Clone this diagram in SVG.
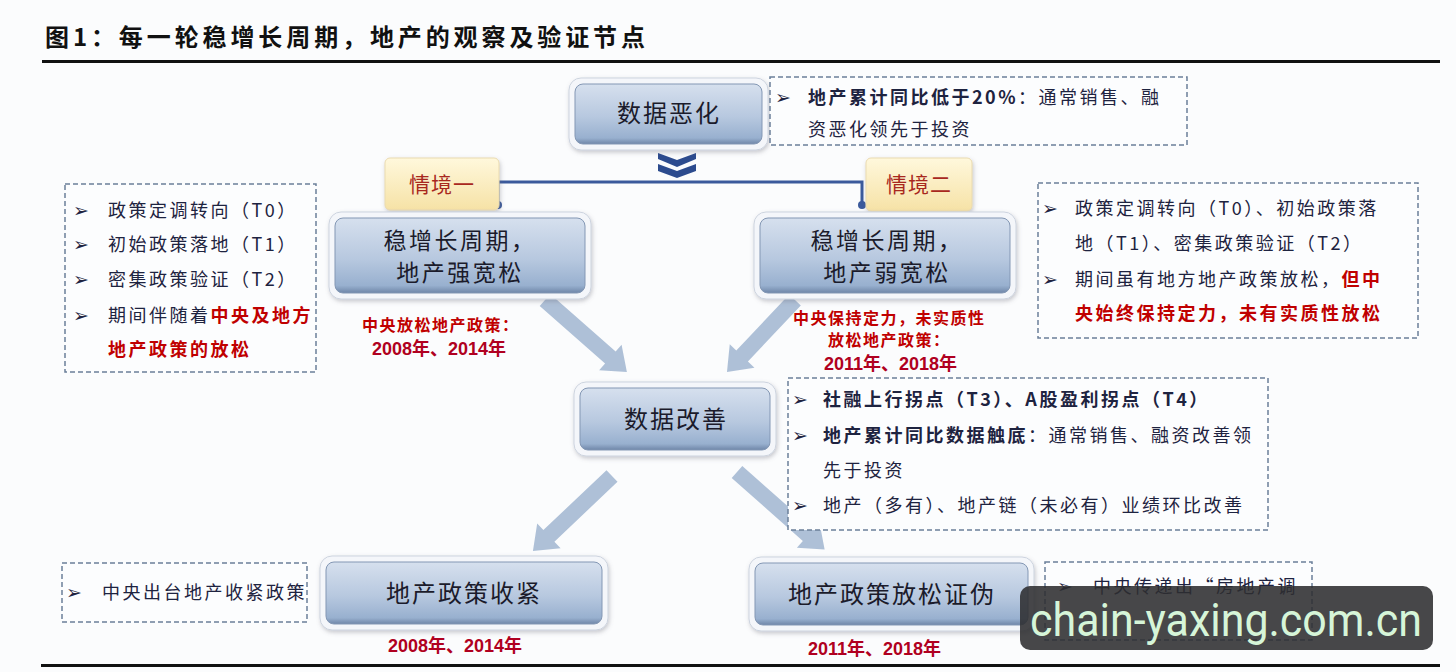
<svg xmlns="http://www.w3.org/2000/svg" width="1456" height="672" viewBox="0 0 1456 672">
<defs>
<linearGradient id="g" x1="0" y1="0" x2="0" y2="1">
<stop offset="0" stop-color="#d6e0ee"/>
<stop offset="0.55" stop-color="#b7c8df"/>
<stop offset="0.9" stop-color="#98b0cf"/>
<stop offset="1" stop-color="#6f86a8"/>
</linearGradient>
<linearGradient id="gy" x1="0" y1="0" x2="0" y2="1">
<stop offset="0" stop-color="#fff8dc"/>
<stop offset="1" stop-color="#f6e2a6"/>
</linearGradient>
<filter id="sh" x="-10%" y="-10%" width="120%" height="130%">
<feDropShadow dx="1" dy="2" stdDeviation="2" flood-color="#667" flood-opacity="0.35"/>
</filter>
<style>
.rim{fill:#f4f6fa;stroke:#cdd4df;stroke-width:1;filter:url(#sh)}
.node{fill:url(#g);stroke:#8397b4;stroke-width:1}
.nt{font-family:"Noto Sans CJK SC",sans-serif;font-size:24px;fill:#1b1b2b;text-anchor:middle;letter-spacing:2px}
.nt2{font-family:"Noto Sans CJK SC",sans-serif;font-size:23px;fill:#1b1b2b;text-anchor:middle;letter-spacing:2.5px}
.dash{fill:#fcfdfe;stroke:#6b7f99;stroke-width:1.5;stroke-dasharray:5 3}
.bt{font-family:"Noto Sans CJK SC",sans-serif;font-size:18px;fill:#1e2340;letter-spacing:2.5px}
.bul{font-family:"DejaVu Sans",sans-serif;font-size:19px;fill:#1e2340}
.red{fill:#c00000}
.b{font-weight:bold}
.rt{font-family:"Noto Sans CJK SC",sans-serif;font-size:16px;fill:#c00000;font-weight:bold;letter-spacing:1.5px}
.yr{font-family:"Liberation Sans","Noto Sans CJK SC",sans-serif;font-size:18px;fill:#b00020;font-weight:bold}
.yl{fill:url(#gy);stroke:#eadbb0;stroke-width:1;filter:url(#sh)}
.ylt{font-family:"Noto Sans CJK SC",sans-serif;font-size:21px;fill:#a8281e;text-anchor:middle;letter-spacing:1px}
.arr{fill:#a7bbd4;opacity:0.92}
</style>
</defs>
<rect width="1456" height="672" fill="#fbfcfd"/>

<g id="title">
<text x="45" y="46" font-family="Noto Sans CJK SC, sans-serif" font-size="24" font-weight="bold" fill="#111" textLength="600">图1：每一轮稳增长周期，地产的观察及验证节点</text>
<rect x="42" y="60" width="1398" height="3" fill="#111"/>
<rect x="41" y="664" width="1399" height="3" fill="#111"/>
</g>

<g id="connectors">
<path d="M498,205 V182 H862 V205" fill="none" stroke="#3b5a9c" stroke-width="3"/>
<circle cx="498" cy="205" r="4" fill="#3b5a9c"/>
<circle cx="862" cy="205" r="4" fill="#3b5a9c"/>
<polygon points="658,153 677,160 696,153 696,159 677,167 658,159" fill="#2c4b8e"/>
<polygon points="658,164 677,171 696,164 696,171 677,178 658,171" fill="#2c4b8e"/>
<path class="arr" transform="translate(545,300) rotate(41.3)" d="M0,-8 L87,-8 L87,-17 L109,0 L87,17 L87,8 L0,8 Z"/>
<path class="arr" transform="translate(795,300) rotate(133.4)" d="M0,-8 L77,-8 L77,-17 L99,0 L77,17 L77,8 L0,8 Z"/>
<path class="arr" transform="translate(612,476) rotate(136.5)" d="M0,-8 L87,-8 L87,-17 L109,0 L87,17 L87,8 L0,8 Z"/>
<path class="arr" transform="translate(737,472) rotate(41.5)" d="M0,-8 L95,-8 L95,-17 L117,0 L95,17 L95,8 L0,8 Z"/>
</g>

<g id="n-worse">
<rect class="rim" x="569" y="78" width="199" height="72" rx="12"/>
<rect class="node" x="575" y="84" width="187" height="60" rx="8"/>
<text class="nt" x="669" y="122">数据恶化</text>
</g>

<g id="box-worse">
<rect class="dash" x="770" y="77" width="417" height="68"/>
<text class="bul" x="775" y="104">➢</text>
<text class="bt" x="808" y="104"><tspan class="b">地产累计同比低于20%</tspan>：通常销售、融</text>
<text class="bt" x="808" y="136">资恶化领先于投资</text>
</g>

<g id="label1">
<rect class="yl" x="385" y="158" width="114" height="52" rx="5"/>
<text class="ylt" x="442" y="192">情境一</text>
</g>
<g id="label2">
<rect class="yl" x="866" y="158" width="106" height="53" rx="5"/>
<text class="ylt" x="919" y="192">情境二</text>
</g>

<g id="n-strong">
<rect class="rim" x="329" y="212" width="262" height="87" rx="12"/>
<rect class="node" x="335" y="218" width="250" height="75" rx="8"/>
<text class="nt2" x="460" y="249">稳增长周期，</text>
<text class="nt2" x="460" y="281">地产强宽松</text>
</g>

<g id="n-weak">
<rect class="rim" x="754" y="212" width="262" height="87" rx="12"/>
<rect class="node" x="760" y="218" width="250" height="75" rx="8"/>
<text class="nt2" x="887" y="249">稳增长周期，</text>
<text class="nt2" x="887" y="281">地产弱宽松</text>
</g>

<g id="box-left">
<rect class="dash" x="65" y="184" width="251" height="188"/>
<text class="bul" x="73" y="217">➢</text>
<text class="bul" x="73" y="251">➢</text>
<text class="bul" x="73" y="286">➢</text>
<text class="bul" x="73" y="322">➢</text>
<text class="bt" x="108" y="217">政策定调转向（T0）</text>
<text class="bt" x="108" y="251">初始政策落地（T1）</text>
<text class="bt" x="108" y="286">密集政策验证（T2）</text>
<text class="bt" x="108" y="322">期间伴随着<tspan class="red b">中央及地方</tspan></text>
<text class="bt red b" x="108" y="356">地产政策的放松</text>
</g>

<g id="box-right">
<rect class="dash" x="1038" y="183" width="380" height="155"/>
<text class="bul" x="1042" y="215">➢</text>
<text class="bul" x="1042" y="286">➢</text>
<text class="bt" x="1075" y="215">政策定调转向（T0）、初始政策落</text>
<text class="bt" x="1075" y="250">地（T1）、密集政策验证（T2）</text>
<text class="bt" x="1075" y="286">期间虽有地方地产政策放松，<tspan class="red b">但中</tspan></text>
<text class="bt red b" x="1075" y="320">央始终保持定力，未有实质性放松</text>
</g>

<g id="red-left">
<text class="rt" x="362" y="331">中央放松地产政策：</text>
<text class="yr" x="372" y="355">2008年、2014年</text>
</g>
<g id="red-right">
<text class="rt" x="793" y="324">中央保持定力，未实质性</text>
<text class="rt" x="828" y="346">放松地产政策：</text>
<text class="yr" x="824" y="370">2011年、2018年</text>
</g>

<g id="n-better">
<rect class="rim" x="574" y="382" width="202" height="74" rx="12"/>
<rect class="node" x="580" y="388" width="190" height="62" rx="8"/>
<text class="nt" x="676" y="428">数据改善</text>
</g>

<g id="box-better">
<rect class="dash" x="788" y="378" width="480" height="152"/>
<text class="bul" x="792" y="406">➢</text>
<text class="bul" x="792" y="442">➢</text>
<text class="bul" x="792" y="512">➢</text>
<text class="bt b" x="823" y="406">社融上行拐点（T3）、A股盈利拐点（T4）</text>
<text class="bt" x="823" y="442"><tspan class="b">地产累计同比数据触底</tspan>：通常销售、融资改善领</text>
<text class="bt" x="823" y="477">先于投资</text>
<text class="bt" x="823" y="512">地产（多有）、地产链（未必有）业绩环比改善</text>
</g>

<g id="n-tight">
<rect class="rim" x="320" y="556" width="288" height="74" rx="12"/>
<rect class="node" x="326" y="562" width="276" height="62" rx="8"/>
<text class="nt" x="464" y="602">地产政策收紧</text>
</g>

<g id="box-tight">
<rect class="dash" x="62" y="563" width="245" height="59"/>
<text class="bul" x="66" y="599">➢</text>
<text class="bt" x="102" y="599">中央出台地产收紧政策</text>
</g>
<text class="yr" x="388" y="652">2008年、2014年</text>

<g id="n-false">
<rect class="rim" x="749" y="557" width="285" height="74" rx="12"/>
<rect class="node" x="755" y="563" width="273" height="62" rx="8"/>
<text class="nt" x="892" y="603">地产政策放松证伪</text>
</g>
<text class="yr" x="808" y="655">2011年、2018年</text>

<g id="box-false">
<rect class="dash" x="1045" y="562" width="267" height="78"/>
<text class="bul" x="1057" y="593">➢</text>
<text class="bt" x="1093" y="593">中央传递出“房地产调</text>
</g>

<g id="watermark">
<rect x="1020" y="586" width="413" height="64" rx="10" fill="#2e2e30" opacity="0.88"/>
<text x="1030" y="636" font-family="Roboto, sans-serif" font-size="46" fill="#d6f5d8" textLength="392" lengthAdjust="spacingAndGlyphs">chain-yaxing.com.cn</text>
</g>
</svg>
